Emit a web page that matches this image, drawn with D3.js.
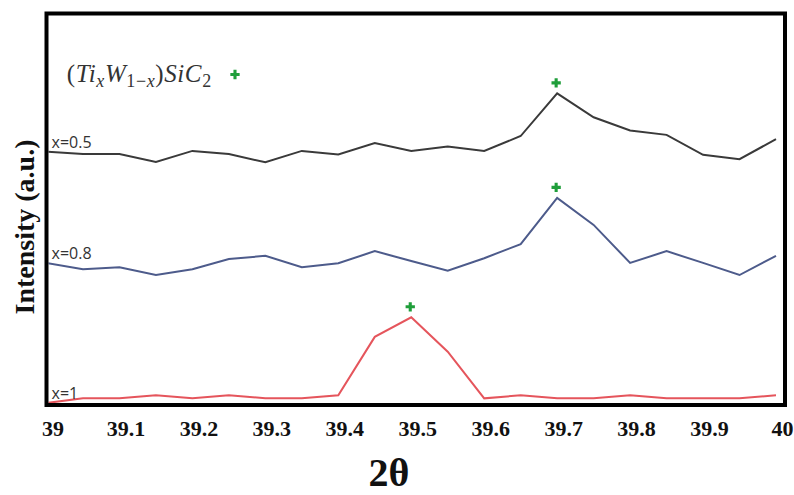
<!DOCTYPE html>
<html>
<head>
<meta charset="utf-8">
<script src="https://cdn.jsdelivr.net/npm/d3@7/dist/d3.min.js"></script>
<style>
  html, body { margin: 0; padding: 0; background: #fff; }
  svg { display: block; }
</style>
</head>
<body>
<svg id="chart" width="794" height="495"></svg>
<script>
// ---- data ----
const twoTheta = [39.00, 39.05, 39.10, 39.15, 39.20, 39.25, 39.30, 39.35, 39.40, 39.45,
                  39.50, 39.55, 39.60, 39.65, 39.70, 39.75, 39.80, 39.85, 39.90, 39.95, 40.00];
const seriesNames = ["x=0.5", "x=0.8", "x=1"];
const intensityX05 = [64.7, 64.1, 64.1, 62.1, 64.9, 64.1, 62.0, 64.9, 64.0, 66.9,
                      64.9, 66.0, 64.9, 68.7, 79.6, 73.5, 70.1, 69.0, 63.9, 62.8, 67.9];
const intensityX08 = [36.3, 34.7, 35.2, 33.2, 34.7, 37.3, 38.1, 35.2, 36.2, 39.3,
                      36.8, 34.3, 37.5, 41.1, 52.9, 46.0, 36.3, 39.3, 36.3, 33.2, 38.1];
const intensityX1  = [0.5, 1.7, 1.7, 2.5, 1.7, 2.5, 1.7, 1.7, 2.5, 17.4,
                      22.4, 13.6, 1.7, 2.5, 1.7, 1.7, 2.5, 1.7, 1.7, 1.7, 2.5];
const peakMarks = [ {x: 39.70, series: 0}, {x: 39.70, series: 1}, {x: 39.50, series: 2} ];
const tickLabels = [39, 39.1, 39.2, 39.3, 39.4, 39.5, 39.6, 39.7, 39.8, 39.9, 40];
const seriesColors = ["#3a3a3a", "#4d5b8b", "#e5555c"];
const markColor = "#1f9e3a";

const allSeries = [intensityX05, intensityX08, intensityX1];

// ---- layout ----
const svg = d3.select("#chart");
const frame = {left: 46.5, top: 13.5, right: 785, bottom: 405};

const x = d3.scaleLinear().domain([39, 40]).range([46.5, 776]);
const y = d3.scaleLinear().domain([0, 100]).range([frame.bottom, frame.top]);

svg.append("defs").append("clipPath").attr("id", "plotclip")
  .append("rect")
  .attr("x", frame.left + 2).attr("y", frame.top + 2)
  .attr("width", frame.right - frame.left - 4).attr("height", frame.bottom - frame.top - 4);

const plot = svg.append("g").attr("clip-path", "url(#plotclip)");

const line = d3.line().x((d, i) => x(twoTheta[i])).y(d => y(d));

allSeries.forEach((vals, si) => {
  plot.append("path")
    .datum(vals)
    .attr("fill", "none")
    .attr("stroke", seriesColors[si])
    .attr("stroke-width", 2)
    .attr("stroke-linejoin", "miter")
    .attr("d", line);
});

// series labels
allSeries.forEach((vals, si) => {
  svg.append("text")
    .attr("x", x(39) + 5)
    .attr("y", y(vals[0]) - 4)
    .attr("font-family", "'Open Sans', sans-serif")
    .attr("font-size", 16)
    .attr("fill", "#333")
    .text(seriesNames[si]);
});

// peak markers
const cross = d3.symbol().type(d3.symbolCross).size(48);
peakMarks.forEach(m => {
  const idx = twoTheta.findIndex(t => Math.abs(t - m.x) < 1e-9);
  const v = allSeries[m.series][idx];
  svg.append("path")
    .attr("d", cross())
    .attr("fill", markColor)
    .attr("transform", `translate(${x(m.x) - 1},${y(v) - 10.5})`);
});

// frame
svg.append("rect")
  .attr("x", frame.left).attr("y", frame.top)
  .attr("width", frame.right - frame.left).attr("height", frame.bottom - frame.top)
  .attr("fill", "none").attr("stroke", "#000").attr("stroke-width", 4);

// x axis
const xAxis = d3.axisBottom(x).tickValues(tickLabels).tickSize(0).tickPadding(15.4)
  .tickFormat(d => String(d));
const gx = svg.append("g").attr("transform", `translate(0,${frame.bottom})`).call(xAxis);
gx.select(".domain").remove();
gx.selectAll("text")
  .attr("dx", 6)
  .attr("font-family", "'Liberation Serif', 'Times New Roman', serif")
  .attr("font-weight", "bold")
  .attr("font-size", 22)
  .attr("fill", "#111");

// axis titles
svg.append("text")
  .attr("x", 389).attr("y", 486)
  .attr("text-anchor", "middle")
  .attr("font-family", "'Liberation Serif', 'Times New Roman', serif")
  .attr("font-weight", "bold")
  .attr("font-size", 40)
  .attr("fill", "#111")
  .text("2θ");

svg.append("text")
  .attr("transform", "translate(34,227) rotate(-90)")
  .attr("text-anchor", "middle")
  .attr("font-family", "'Liberation Serif', 'Times New Roman', serif")
  .attr("font-weight", "bold")
  .attr("font-size", 28)
  .attr("fill", "#111")
  .text("Intensity (a.u.)");

// legend formula
const lg = svg.append("text")
  .attr("x", 66.7).attr("y", 81.7)
  .attr("font-family", "'Liberation Serif', 'Times New Roman', serif")
  .attr("font-size", 25)
  .attr("letter-spacing", 0.6)
  .attr("fill", "#333");
lg.append("tspan").text("(");
lg.append("tspan").attr("font-style", "italic").text("Ti");
lg.append("tspan").attr("font-style", "italic").attr("font-size", 18).attr("dy", 5).text("x");
lg.append("tspan").attr("font-style", "italic").attr("dy", -5).text("W");
lg.append("tspan").attr("font-size", 18).attr("dy", 5).text("1−");
lg.append("tspan").attr("font-style", "italic").attr("font-size", 18).text("x");
lg.append("tspan").attr("dy", -5).text(")");
lg.append("tspan").attr("font-style", "italic").text("SiC");
lg.append("tspan").attr("font-size", 18).attr("dy", 5).text("2");

svg.append("path")
  .attr("d", cross())
  .attr("fill", markColor)
  .attr("transform", "translate(235,74.5)");
</script>
</body>
</html>
